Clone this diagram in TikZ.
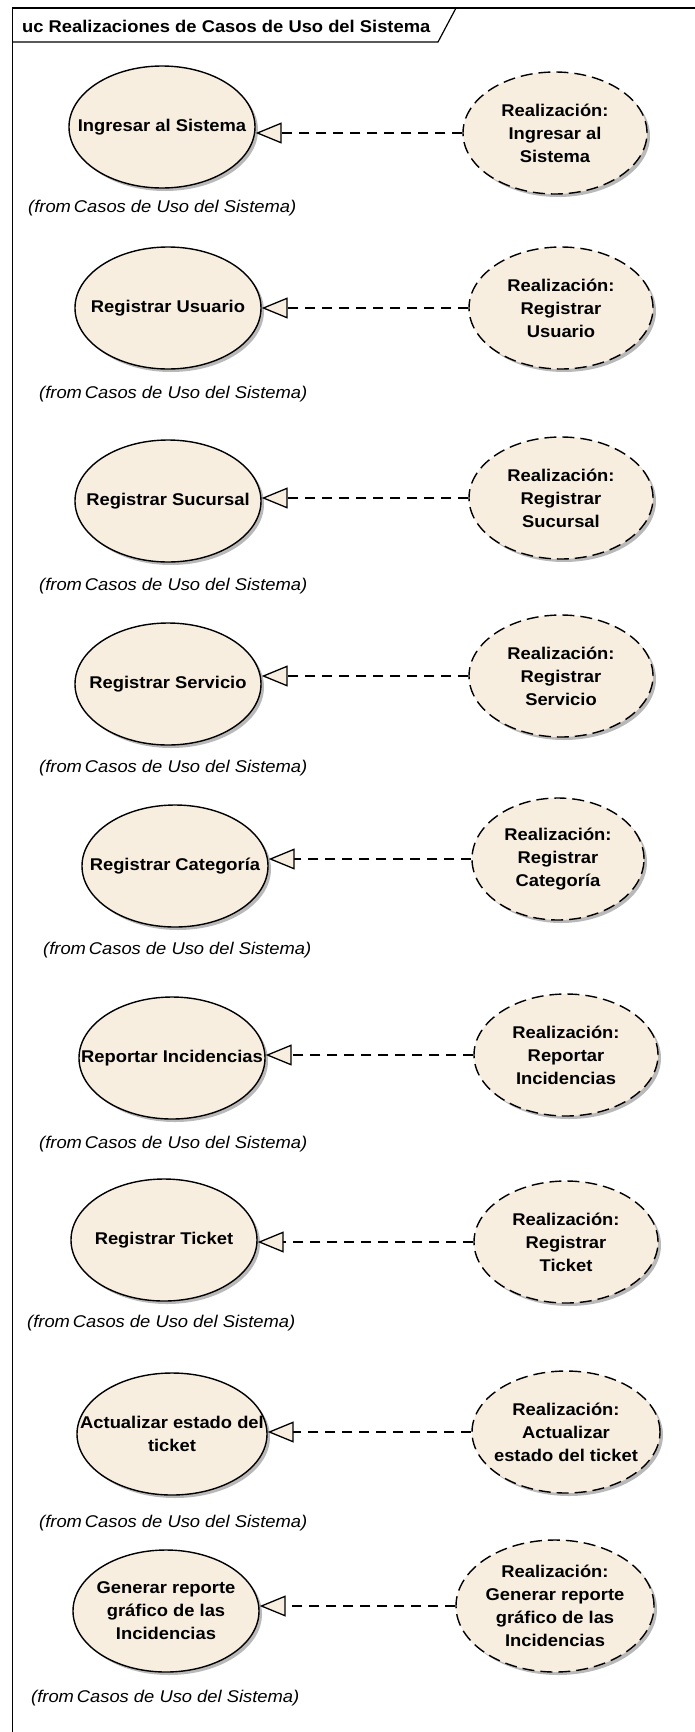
\documentclass[tikz,border=0pt]{standalone}
\usepackage{fontspec}
\setmainfont{Liberation Sans}[FakeStretch=1.08]
\usetikzlibrary{arrows.meta}
\usetikzlibrary{shapes.geometric}
\usetikzlibrary{shadows}
\definecolor{ucfill}{RGB}{247,238,224}
\tikzset{
    usecase/.style = {ellipse,draw,line width=1.4pt,fill=ucfill,inner sep=-200pt,align=center,
        font=\fontsize{17}{23}\selectfont\bfseries,minimum width=186pt,minimum height=122pt,
        drop shadow={shadow xshift=3pt,shadow yshift=-3pt,fill=black!50,opacity=0.55}},
    realiz/.style = {usecase,dash pattern=on 12pt off 6pt,minimum width=184pt},
    fromlbl/.style = {anchor=west,inner sep=0,font=\fontsize{17}{20}\selectfont\itshape},
    realize/.style = {dash pattern=on 10pt off 7pt,line width=1.3pt,
        -{Triangle[length=26pt,width=21pt,fill=ucfill]}}
}
\newcommand*\fromtxt{(from\,Casos de Uso del Sistema)}

\begin{document}
\begin{tikzpicture}[x=1pt,y=-1pt]
    \useasboundingbox (0,0) rectangle (694,1732);
    % Frame and title tab
    \draw[line width=1.6pt] (700,8) -- (12.5,8) -- (12.5,1740);
    \draw[line width=1.2pt] (12.5,42) -- (438,42) -- (456,8);
    \node[anchor=base west,inner sep=0,font=\fontsize{17}{20}\selectfont\bfseries] (title)
        at (22,32) {uc Realizaciones de Casos de Uso del Sistema};
    % Use cases
    \node[usecase] (ingresar) at (162,127) {Ingresar al Sistema};
    \node[usecase] (usuario) at (168,308) {Registrar Usuario};
    \node[usecase] (sucursal) at (168,501) {Registrar Sucursal};
    \node[usecase] (servicio) at (168,684) {Registrar Servicio};
    \node[usecase] (categoria) at (175,866) {Registrar Categoría};
    \node[usecase] (incidencias) at (172,1058) {Reportar Incidencias};
    \node[usecase] (ticket) at (164,1240) {Registrar Ticket};
    \node[usecase,minimum width=190pt] (estado) at (172,1434) {Actualizar estado del\\ticket};
    \node[usecase] (reporte) at (166,1611) {Generar reporte\\gráfico de las\\Incidencias};
    % Realizations
    \node[realiz] (ringresar) at (555,133) {Realización:\\Ingresar al\\Sistema};
    \node[realiz] (rusuario) at (561,308) {Realización:\\Registrar\\Usuario};
    \node[realiz] (rsucursal) at (561,498) {Realización:\\Registrar\\Sucursal};
    \node[realiz] (rservicio) at (561,676) {Realización:\\Registrar\\Servicio};
    \node[realiz,minimum width=172pt] (rcategoria) at (558,859) {Realización:\\Registrar\\Categoría};
    \node[realiz] (rincidencias) at (566,1055) {Realización:\\Reportar\\Incidencias};
    \node[realiz] (rticket) at (566,1242) {Realización:\\Registrar\\Ticket};
    \node[realiz,minimum width=188pt] (restado) at (566,1432) {Realización:\\Actualizar\\estado del ticket};
    \node[realiz,minimum width=198pt,minimum height=132pt] (rreporte) at (555,1606)
        {Realización:\\Generar reporte\\gráfico de las\\Incidencias};
    % Owning package notes
    \node[fromlbl] (fingresar) at (28,208) {\fromtxt};
    \node[fromlbl] (fusuario) at (39,394) {\fromtxt};
    \node[fromlbl] (fsucursal) at (39,586) {\fromtxt};
    \node[fromlbl] (fservicio) at (39,768) {\fromtxt};
    \node[fromlbl] (fcategoria) at (43,950) {\fromtxt};
    \node[fromlbl] (fincidencias) at (39,1144) {\fromtxt};
    \node[fromlbl] (fticket) at (27,1323) {\fromtxt};
    \node[fromlbl] (festado) at (39,1523) {\fromtxt};
    \node[fromlbl] (freporte) at (31,1698) {\fromtxt};
    % Realization links
    \foreach \src/\dest in {ringresar/ingresar,rusuario/usuario,rsucursal/sucursal,
        rservicio/servicio,rcategoria/categoria,rincidencias/incidencias,
        rticket/ticket,restado/estado,rreporte/reporte}
        \draw[realize] (\src.west) -- (\src.west -| \dest.east);
\end{tikzpicture}
\end{document}
